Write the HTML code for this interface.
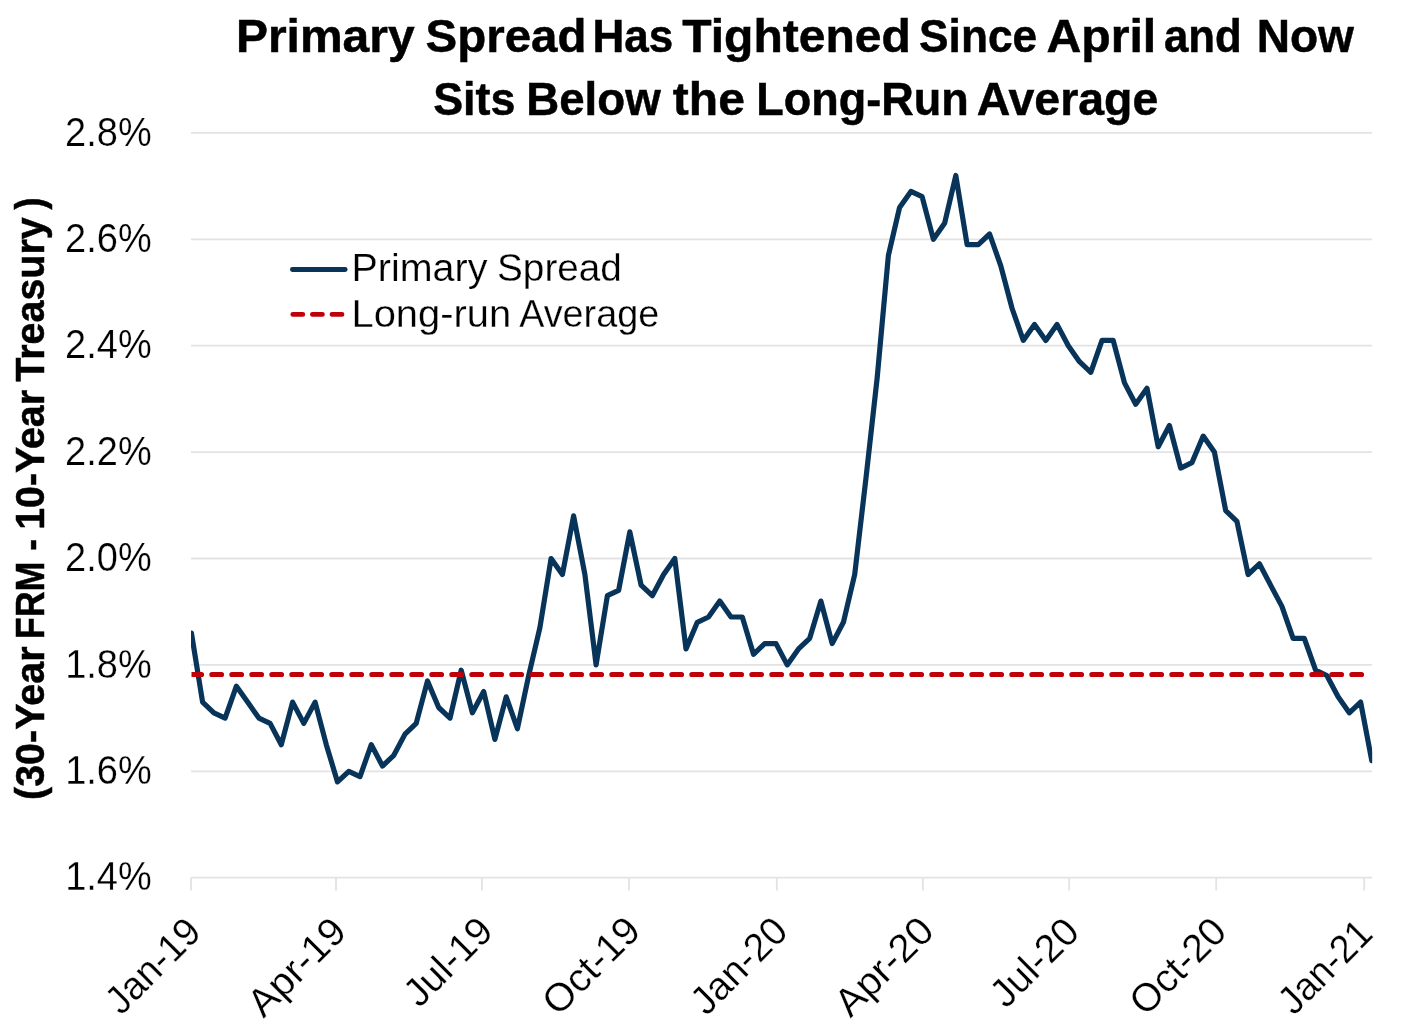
<!DOCTYPE html>
<html><head><meta charset="utf-8"><title>Primary Spread</title>
<style>
html,body{margin:0;padding:0;background:#fff;}
body{width:1421px;height:1031px;overflow:hidden;font-family:"Liberation Sans",sans-serif;}
svg{display:block;will-change:transform;}
text{font-family:"Liberation Sans",sans-serif;fill:#000;}
</style></head><body>
<svg width="1421" height="1031" viewBox="0 0 1421 1031">
<rect width="1421" height="1031" fill="#fff"/>
<g id="grid">
<line x1="191" y1="132.9" x2="1372" y2="132.9" stroke="#e3e3e3" stroke-width="1.8"/>
<line x1="191" y1="239.3" x2="1372" y2="239.3" stroke="#e3e3e3" stroke-width="1.8"/>
<line x1="191" y1="345.7" x2="1372" y2="345.7" stroke="#e3e3e3" stroke-width="1.8"/>
<line x1="191" y1="452.1" x2="1372" y2="452.1" stroke="#e3e3e3" stroke-width="1.8"/>
<line x1="191" y1="558.5" x2="1372" y2="558.5" stroke="#e3e3e3" stroke-width="1.8"/>
<line x1="191" y1="664.9" x2="1372" y2="664.9" stroke="#e3e3e3" stroke-width="1.8"/>
<line x1="191" y1="771.3" x2="1372" y2="771.3" stroke="#e3e3e3" stroke-width="1.8"/>
<line x1="191" y1="877.7" x2="1372" y2="877.7" stroke="#e3e3e3" stroke-width="1.8"/>
<line x1="191.0" y1="877.7" x2="191.0" y2="890.5" stroke="#e3e3e3" stroke-width="1.8"/>
<line x1="336.0" y1="877.7" x2="336.0" y2="890.5" stroke="#e3e3e3" stroke-width="1.8"/>
<line x1="481.9" y1="877.7" x2="481.9" y2="890.5" stroke="#e3e3e3" stroke-width="1.8"/>
<line x1="629.0" y1="877.7" x2="629.0" y2="890.5" stroke="#e3e3e3" stroke-width="1.8"/>
<line x1="776.8" y1="877.7" x2="776.8" y2="890.5" stroke="#e3e3e3" stroke-width="1.8"/>
<line x1="922.9" y1="877.7" x2="922.9" y2="890.5" stroke="#e3e3e3" stroke-width="1.8"/>
<line x1="1069.2" y1="877.7" x2="1069.2" y2="890.5" stroke="#e3e3e3" stroke-width="1.8"/>
<line x1="1216.2" y1="877.7" x2="1216.2" y2="890.5" stroke="#e3e3e3" stroke-width="1.8"/>
<line x1="1364.2" y1="877.7" x2="1364.2" y2="890.5" stroke="#e3e3e3" stroke-width="1.8"/>
</g>
<g id="title" font-weight="bold" font-size="47.0" stroke="#000" stroke-width="0.5">
<text transform="translate(235.88,52.2) scale(1.0210,1)">Primary</text>
<text transform="translate(425.58,52.2) scale(1.0093,1)">Spread</text>
<text transform="translate(592.44,52.2) scale(0.9372,1)">Has</text>
<text transform="translate(682.22,52.2) scale(1.0227,1)">Tightened</text>
<text transform="translate(919.07,52.2) scale(0.9425,1)">Since</text>
<text transform="translate(1046.39,52.2) scale(1.0258,1)">April</text>
<text transform="translate(1163.89,52.2) scale(0.9321,1)">and</text>
<text transform="translate(1256.71,52.2) scale(0.9801,1)">Now</text>
<text transform="translate(433.15,114.6) scale(0.9550,1)">Sits</text>
<text transform="translate(526.23,114.6) scale(0.9715,1)">Below</text>
<text transform="translate(672.82,114.6) scale(1.0222,1)">the</text>
<text transform="translate(756.27,114.6) scale(0.9576,1)">Long-Run</text>
<text transform="translate(976.64,114.6) scale(0.9892,1)">Average</text>
</g>
<g id="ylabels" font-size="39.8" stroke="#fff" stroke-width="0.25">
<text transform="translate(65.10,145.55) scale(0.9547,1)">2.8%</text>
<text transform="translate(65.10,251.95) scale(0.9547,1)">2.6%</text>
<text transform="translate(65.10,358.35) scale(0.9547,1)">2.4%</text>
<text transform="translate(65.10,464.75) scale(0.9547,1)">2.2%</text>
<text transform="translate(65.10,571.15) scale(0.9547,1)">2.0%</text>
<text transform="translate(65.15,677.55) scale(0.9541,1)">1.8%</text>
<text transform="translate(65.15,783.95) scale(0.9541,1)">1.6%</text>
<text transform="translate(65.15,890.35) scale(0.9541,1)">1.4%</text>
</g>
<g id="xlabels" font-size="39.4" stroke="#fff" stroke-width="0.25">
<text transform="translate(203.20,934.20) rotate(-45) scale(0.9622,1)" text-anchor="end">Jan-19</text>
<text transform="translate(348.60,933.80) rotate(-45) scale(1.0177,1)" text-anchor="end">Apr-19</text>
<text transform="translate(495.10,933.20) rotate(-45) scale(0.9966,1)" text-anchor="end">Jul-19</text>
<text transform="translate(642.60,932.80) rotate(-45) scale(1.0102,1)" text-anchor="end">Oct-19</text>
<text transform="translate(789.80,933.40) rotate(-45) scale(0.9793,1)" text-anchor="end">Jan-20</text>
<text transform="translate(936.10,933.20) rotate(-45) scale(1.0244,1)" text-anchor="end">Apr-20</text>
<text transform="translate(1081.40,934.20) rotate(-45) scale(0.9941,1)" text-anchor="end">Jul-20</text>
<text transform="translate(1228.80,933.80) rotate(-45) scale(0.9968,1)" text-anchor="end">Oct-20</text>
<text transform="translate(1374.80,935.80) rotate(-45) scale(0.9485,1)" text-anchor="end">Jan-21</text>
</g>
<g id="ytitle" transform="translate(44.2,0) rotate(-90)" font-weight="bold" font-size="40.0" stroke="#000" stroke-width="0.5">
<text transform="translate(-799.97,0) scale(0.9869,1)">(30-Year</text>
<text transform="translate(-639.23,0) scale(0.8968,1)">FRM</text>
<text transform="translate(-550.80,0) scale(0.8725,1)">-</text>
<text transform="translate(-529.75,0) scale(0.9820,1)">10-Year</text>
<text transform="translate(-381.69,0) scale(0.9856,1)">Treasury</text>
<text transform="translate(-209.48,0) scale(0.9018,1)">)</text>
</g>
<polyline id="series" clip-path="url(#pc2)" points="191.4,633.0 202.6,702.1 213.9,712.8 225.1,718.1 236.4,686.2 247.6,702.1 258.9,718.1 270.1,723.4 281.3,744.7 292.6,702.1 303.8,723.4 315.1,702.1 326.3,744.7 337.5,781.9 348.8,771.3 360.0,776.6 371.3,744.7 382.5,766.0 393.8,755.3 405.0,734.1 416.2,723.4 427.5,680.9 438.7,707.5 450.0,718.1 461.2,670.2 472.4,712.8 483.7,691.5 494.9,739.4 506.2,696.8 517.4,728.7 528.7,675.5 539.9,627.7 551.1,558.5 562.4,574.5 573.6,515.9 584.9,574.5 596.1,664.9 607.4,595.7 618.6,590.4 629.8,531.9 641.1,585.1 652.3,595.7 663.6,574.5 674.8,558.5 686.0,648.9 697.3,622.3 708.5,617.0 719.8,601.1 731.0,617.0 742.3,617.0 753.5,654.3 764.7,643.6 776.0,643.6 787.2,664.9 798.5,648.9 809.7,638.3 820.9,601.1 832.2,643.6 843.4,622.3 854.7,574.5 865.9,478.7 877.2,377.6 888.4,255.3 899.6,207.4 910.9,191.4 922.1,196.7 933.4,239.3 944.6,223.3 955.8,175.5 967.1,244.6 978.3,244.6 989.6,234.0 1000.8,265.9 1012.1,308.5 1023.3,340.4 1034.5,324.4 1045.8,340.4 1057.0,324.4 1068.3,345.7 1079.5,361.7 1090.8,372.3 1102.0,340.4 1113.2,340.4 1124.5,382.9 1135.7,404.2 1147.0,388.3 1158.2,446.8 1169.4,425.5 1180.7,468.1 1191.9,462.7 1203.2,436.1 1214.4,452.1 1225.7,510.6 1236.9,521.3 1248.1,574.5 1259.4,563.8 1270.6,585.1 1281.9,606.4 1293.1,638.3 1304.3,638.3 1315.6,670.2 1326.8,675.5 1338.1,696.8 1349.3,712.8 1360.6,702.1 1371.8,760.7" fill="none" stroke="#08345a" stroke-width="5.2" stroke-linejoin="round" stroke-linecap="round"/>
<clipPath id="pc2"><rect x="191" y="100" width="1181.2" height="800"/></clipPath>
<clipPath id="pc"><rect x="191.5" y="100" width="1181" height="800"/></clipPath>
<line id="avg" clip-path="url(#pc)" x1="191.9" y1="674.5" x2="1361.5" y2="674.5" stroke="#c00008" stroke-width="5.2" stroke-linecap="round" stroke-dasharray="9.6 10.4"/>
<g id="legend" font-size="39.4">
<g stroke="#fff" stroke-width="0.25">
<text transform="translate(351.54,281.3) scale(1.0016,1)">Primary</text>
<text transform="translate(497.06,281.3) scale(0.9826,1)">Spread</text>
<text transform="translate(351.51,327.0) scale(1.0119,1)">Long-run</text>
<text transform="translate(519.21,327.0) scale(0.9583,1)">Average</text>
</g>
<line x1="292.4" y1="269.5" x2="345.2" y2="269.5" stroke="#08345a" stroke-width="4.8" stroke-linecap="round"/>
<line x1="292.8" y1="314.4" x2="343" y2="314.4" stroke="#c00008" stroke-width="4.8" stroke-linecap="round" stroke-dasharray="10 9.6"/>
</g>
</svg>
</body></html>
